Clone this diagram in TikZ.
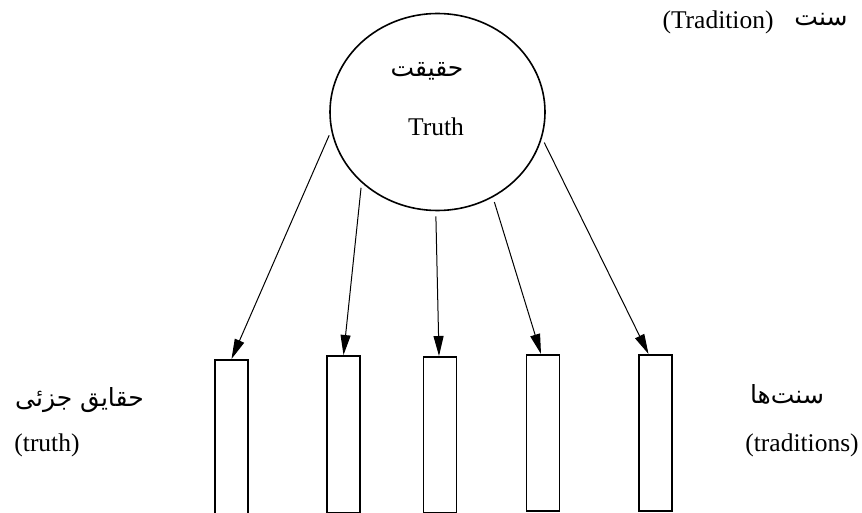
\documentclass[tikz,border=0pt]{standalone}
\usepackage{fontspec}
\setmainfont{Liberation Serif}
\newfontfamily\arabicfont[Script=Arabic]{DejaVu Sans}
\TeXXeTstate=1
\usetikzlibrary{shapes.geometric}
\usetikzlibrary{arrows.meta}

\begin{document}
\begin{tikzpicture}[x=1pt,y=-1pt, >={Triangle[length=20pt,width=10pt]},
        lbl/.style={inner sep=0pt, font=\fontsize{25.5}{28}\selectfont},
        fa/.style={inner sep=0pt, font=\arabicfont\fontsize{25}{28}\selectfont},
        bar/.style={draw, line width=1.6pt, anchor=north, minimum width=33pt, inner sep=0pt}]

        \useasboundingbox (0,0) rectangle (862,513);

        \node[draw, ellipse, line width=1.6pt, minimum width=215pt, minimum height=197pt, inner sep=0pt] (T) at (437.5,112) {};
        \node[fa] (haqiqat) at (427,71) {\beginR حقیقت\endR};
        \node[lbl] (truth) at (436,127) {Truth};

        \node[fa] (sonnat) at (821,20) {\beginR سنت\endR};
        \node[lbl] (tradition) at (718,22) {(Tradition)};

        \node[bar, minimum height=157pt] (b1) at (231.5,359) {};
        \node[bar, minimum height=157pt] (b2) at (343.5,355) {};
        \node[bar, minimum height=156pt] (b3) at (440,356) {};
        \node[bar, minimum height=156pt] (b4) at (543,354) {};
        \node[bar, minimum height=156pt] (b5) at (655.5,354) {};

        \node[fa] (partial) at (79.5,400) {\beginR حقایق جزئی\endR};
        \node[lbl] (truths) at (47,445) {(truth)};
        \node[fa] (sonnatha) at (787,394) {\beginR سنت‌ها\endR};
        \node[lbl] (traditions) at (802,445) {(traditions)};

        \path[->, line width=1pt, shorten <=5pt]
        (T.190) edge (b1.north)
        (T.223) edge (b2.north)
        (T.269) edge ([xshift=-1pt]b3.north)
        (T.303) edge ([xshift=-2pt]b4.north)
        (T.346) edge ([xshift=-7pt]b5.north);

      \end{tikzpicture}
\end{document}
